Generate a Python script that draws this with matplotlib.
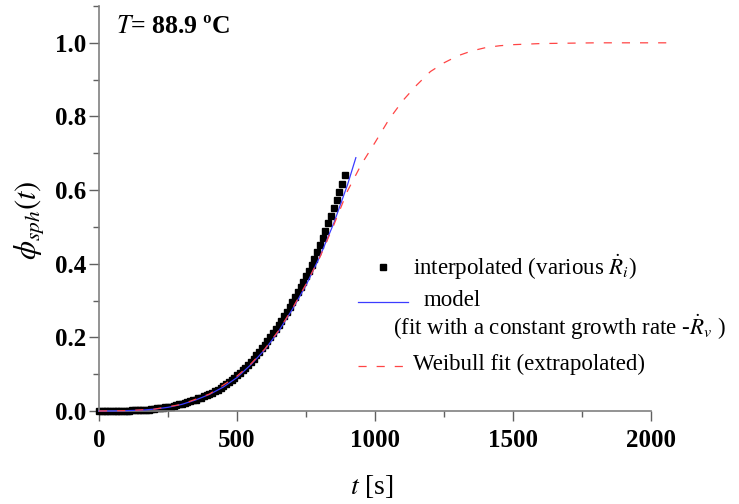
import matplotlib
matplotlib.use("Agg")
import matplotlib.pyplot as plt
import numpy as np
from matplotlib.lines import Line2D
from matplotlib.ticker import MultipleLocator

plt.rcParams['font.family'] = ['Liberation Serif', 'DejaVu Serif']
plt.rcParams['mathtext.fontset'] = 'stix'

# interpolated data (various R_i), t every 10 s
t_interp = np.arange(0, 900, 10)
phi_interp = [0.000, 0.000, 0.000, 0.000, 0.000, 0.000, 0.001, 0.001, 0.001, 0.001,
              0.001, 0.001, 0.002, 0.002, 0.002, 0.003, 0.003, 0.004, 0.004, 0.005,
              0.006, 0.007, 0.008, 0.009, 0.010, 0.011, 0.012, 0.014, 0.016, 0.018,
              0.020, 0.022, 0.024, 0.027, 0.029, 0.031, 0.034, 0.036, 0.040, 0.043,
              0.046, 0.050, 0.054, 0.058, 0.062, 0.067, 0.072, 0.078, 0.084, 0.090,
              0.097, 0.104, 0.111, 0.118, 0.126, 0.134, 0.142, 0.151, 0.160, 0.170,
              0.180, 0.190, 0.200, 0.211, 0.222, 0.233, 0.245, 0.257, 0.269, 0.282,
              0.295, 0.309, 0.323, 0.337, 0.351, 0.366, 0.381, 0.397, 0.414, 0.432,
              0.451, 0.470, 0.490, 0.510, 0.530, 0.551, 0.573, 0.594, 0.616, 0.640]

# model (constant growth rate)
t_model = [0, 50, 100, 150, 200, 250, 300, 350, 400, 450, 500, 550, 600, 650,
           700, 750, 800, 850, 900, 930]
phi_model = [0.0, 0.0, 0.001, 0.002, 0.005, 0.010, 0.018, 0.030, 0.045, 0.065,
             0.091, 0.126, 0.166, 0.216, 0.276, 0.342, 0.420, 0.510, 0.615, 0.688]

# Weibull fit (extrapolated)
t_weib = [0, 100, 200, 300, 400, 500, 550, 600, 650, 700, 750, 800, 850, 900,
          950, 1000, 1050, 1100, 1150, 1200, 1250, 1300, 1350, 1400, 1450, 1500,
          1600, 1700, 1800, 2075]
phi_weib = [0.0, 0.001, 0.005, 0.018, 0.046, 0.095, 0.128, 0.168, 0.218, 0.278,
            0.345, 0.418, 0.505, 0.598, 0.670, 0.730, 0.792, 0.843, 0.885, 0.922,
            0.946, 0.965, 0.978, 0.987, 0.992, 0.995, 0.998, 0.999, 1.0, 1.0]

W, H = 739, 504
fig = plt.figure(figsize=(W / 100, H / 100), dpi=100)
ax = fig.add_axes([99 / W, 1 - 411 / H, 580 / W, 405 / H])

blue = '#3c3cff'
red = '#ff4545'
ax.plot(t_interp, phi_interp, 's', color='black', markersize=4.3, zorder=2, clip_on=False)
ax.plot(t_model, phi_model, '-', color=blue, lw=0.9, zorder=3, clip_on=False)
ax.plot(t_weib, phi_weib, '--', color=red, lw=0.9, dashes=(6.5, 8), zorder=4, clip_on=False)

ax.set_xlim(0, 2100)
ax.set_ylim(0, 1.1)
ax.xaxis.set_major_locator(MultipleLocator(500))
ax.xaxis.set_minor_locator(MultipleLocator(250))
ax.yaxis.set_major_locator(MultipleLocator(0.2))
ax.yaxis.set_minor_locator(MultipleLocator(0.1))
ax.set_xticks([0, 500, 1000, 1500, 2000])
ax.set_yticks([0.0, 0.2, 0.4, 0.6, 0.8, 1.0])
ax.set_yticklabels(['0.0', '0.2', '0.4', '0.6', '0.8', '1.0'])

for s in ['top', 'right']:
    ax.spines[s].set_visible(False)
for s in ['left', 'bottom']:
    ax.spines[s].set_color('#808080')
    ax.spines[s].set_linewidth(1.2)
ax.spines['bottom'].set_bounds(0, 2000)

ax.tick_params(which='major', length=7, width=1, color='#606060', direction='out')
ax.tick_params(which='minor', length=4, width=1, color='#606060', direction='out')
ax.tick_params(axis='y', labelsize=18, pad=2)
ax.tick_params(axis='x', labelsize=18, pad=6)
for lab in ax.get_xticklabels() + ax.get_yticklabels():
    lab.set_fontweight('bold')

def fx(px):
    return px / W

def fy(py):
    return 1 - py / H

fig.text(fx(116), fy(33), r'$T$= 88.9 ºC', fontsize=18.5, fontweight='bold', va='baseline')
fig.text(fx(372), fy(486), r'$t$ [s]', fontsize=20, ha='center', va='center')
fig.text(fx(30), fy(220), r'$\phi_{sph}(t)$', fontsize=22, rotation=90, ha='center', va='center')

# legend drawn by hand to follow the original layout
fig.add_artist(Line2D([fx(383)], [fy(267)], marker='s', color='black', markersize=4.3, ls='none'))
fig.add_artist(Line2D([fx(358), fx(408)], [fy(302), fy(302)], color=blue, lw=0.9))
fig.add_artist(Line2D([fx(358), fx(408)], [fy(366), fy(366)], color=red, lw=0.9,
                      ls='--', dashes=(6.5, 8)))
fs_leg = 16.5
fig.text(fx(413), fy(267), r'interpolated (various $\dot{R}_i$)', fontsize=fs_leg, va='center')
fig.text(fx(424), fy(300), 'model', fontsize=fs_leg, va='center')
fig.text(fx(393), fy(327), r'(fit with a constant growth rate -$\dot{R}_v$ )', fontsize=fs_leg, va='center')
fig.text(fx(413), fy(364), 'Weibull fit (extrapolated)', fontsize=fs_leg, va='center')

fig.savefig('out.png', dpi=100)
